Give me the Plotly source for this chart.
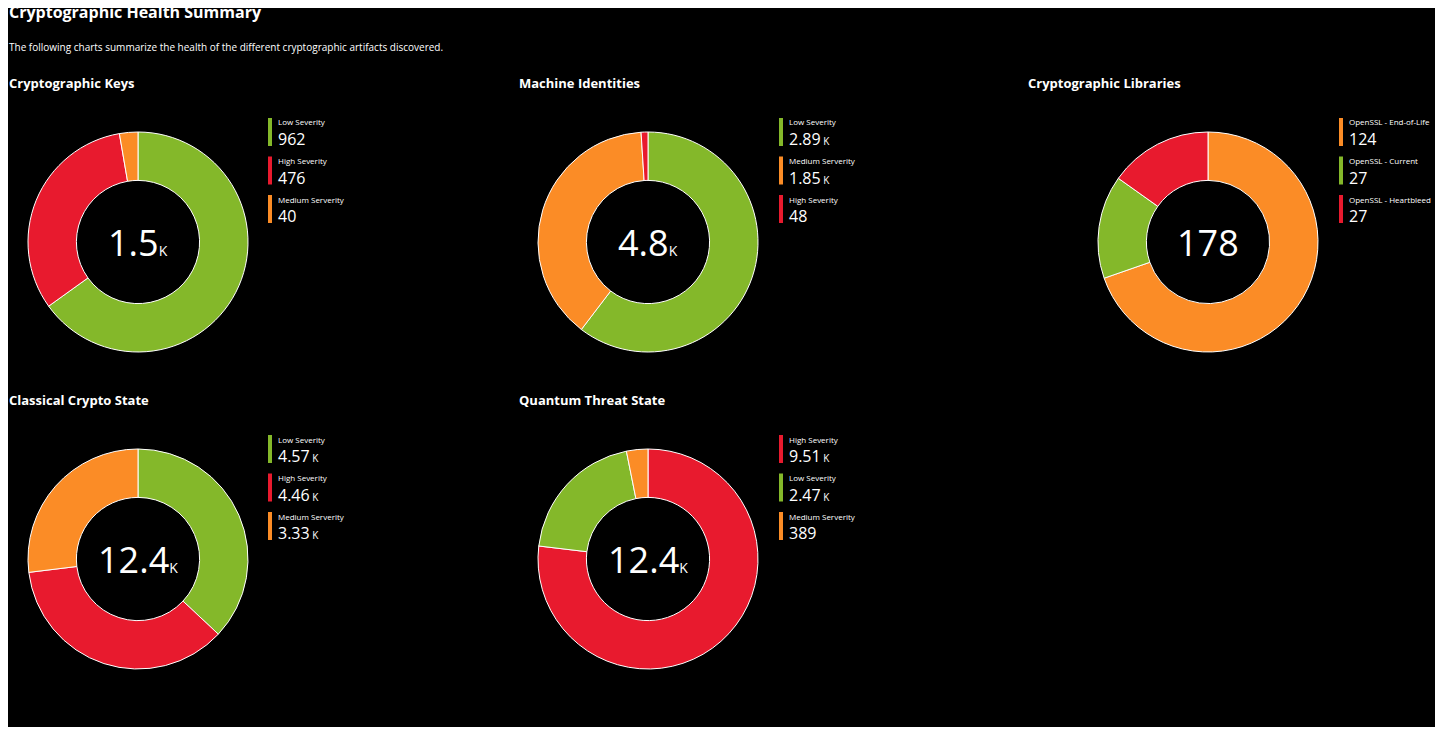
import plotly.graph_objects as go

W, H = 1443, 735
OFF = 8  # page body margin
GREEN, RED, ORANGE = "#84b82a", "#e81a2e", "#fb8c26"
FONT = "Open Sans"

chart_titles = ["Cryptographic Keys", "Machine Identities", "Cryptographic Libraries",
                "Classical Crypto State", "Quantum Threat State"]
keys_labels = ["Low Severity", "High Severity", "Medium Serverity"]
keys_values = [962, 476, 40]
machine_labels = ["Low Severity", "Medium Serverity", "High Severity"]
machine_values = [2890, 1850, 48]
libs_labels = ["OpenSSL - End-of-Life", "OpenSSL - Current", "OpenSSL - Heartbleed"]
libs_values = [124, 27, 27]
classical_labels = ["Low Severity", "High Severity", "Medium Serverity"]
classical_values = [4570, 4460, 3330]
quantum_labels = ["High Severity", "Low Severity", "Medium Serverity"]
quantum_values = [9510, 2470, 389]

series = [(keys_labels, keys_values), (machine_labels, machine_values),
          (libs_labels, libs_values), (classical_labels, classical_values),
          (quantum_labels, quantum_values)]
# pixel layout: pie centre, legend x, legend top
centres = [(138, 242), (648, 242), (1208, 242), (138, 559), (648, 559)]
legend_pos = [(268, 118), (779, 118), (1339, 118), (268, 435), (779, 435)]
title_pos = [(7, 83), (517, 83), (1026, 83), (7, 400), (517, 400)]
R = 110
FW, FH = W - 2 * OFF, H - 2 * OFF


def colour(label):
    if "Low" in label or "Current" in label:
        return GREEN
    if "High" in label or "Heartbleed" in label:
        return RED
    return ORANGE


def px(x):
    return (x - OFF) / FW


def py(y):
    return 1 - (y - OFF) / FH


def fmt(v, center=False):
    if v >= 1000:
        if center:
            return f"{v/1000:.1f}<span style='font-size:14px'>K</span>"
        return f"{v/1000:.3g}<span style='font-size:10px'> K</span>"
    return f"{v}"


fig = go.Figure()
ann, shapes = [], []
for i, (labels, values) in enumerate(series):
    cx, cy = centres[i]
    fig.add_trace(go.Pie(
        labels=labels, values=values, hole=0.56, sort=False, direction="clockwise",
        rotation=0, textinfo="none", hoverinfo="label+value",
        marker=dict(colors=[colour(l) for l in labels], line=dict(color="white", width=1)),
        domain=dict(x=[px(cx - R), px(cx + R)], y=[py(cy + R), py(cy - R)]),
        showlegend=False,
    ))
    ann.append(dict(x=px(cx), y=py(cy), xref="paper", yref="paper", showarrow=False,
                    xanchor="center", yanchor="middle",
                    text=fmt(sum(values), center=True),
                    font=dict(color="white", size=36, family=FONT)))
    tx, ty = title_pos[i]
    ann.append(dict(x=px(tx), y=py(ty), xref="paper", yref="paper", showarrow=False,
                    xanchor="left", yanchor="middle", text=f"<b>{chart_titles[i]}</b>",
                    font=dict(color="white", size=13, family=FONT)))
    lx, ly = legend_pos[i]
    for j, (l, v) in enumerate(zip(labels, values)):
        top = ly + j * 38.5
        shapes.append(dict(type="rect", xref="paper", yref="paper",
                           x0=px(lx), x1=px(lx + 4), y0=py(top + 28), y1=py(top),
                           fillcolor=colour(l), line=dict(width=0)))
        ann.append(dict(x=px(lx + 8), y=py(top + 4), xref="paper", yref="paper",
                        showarrow=False, xanchor="left", yanchor="middle", text=l,
                        font=dict(color="white", size=8, family=FONT)))
        ann.append(dict(x=px(lx + 8), y=py(top + 21), xref="paper", yref="paper",
                        showarrow=False, xanchor="left", yanchor="middle", text=fmt(v),
                        font=dict(color="white", size=16, family=FONT)))

ann.append(dict(x=px(7), y=py(12), xref="paper", yref="paper", showarrow=False,
                xanchor="left", yanchor="middle", text="<b>Cryptographic Health Summary</b>",
                font=dict(color="white", size=16, family=FONT)))
ann.append(dict(x=px(7), y=py(47), xref="paper", yref="paper", showarrow=False,
                xanchor="left", yanchor="middle",
                text="The following charts summarize the health of the different cryptographic artifacts discovered.",
                font=dict(color="white", size=10, family=FONT)))

fig.update_layout(width=FW, height=FH, margin=dict(l=0, r=0, t=0, b=0),
                  paper_bgcolor="black", plot_bgcolor="black",
                  annotations=ann, shapes=shapes)
fig.write_html("out.html", config={"responsive": False})
